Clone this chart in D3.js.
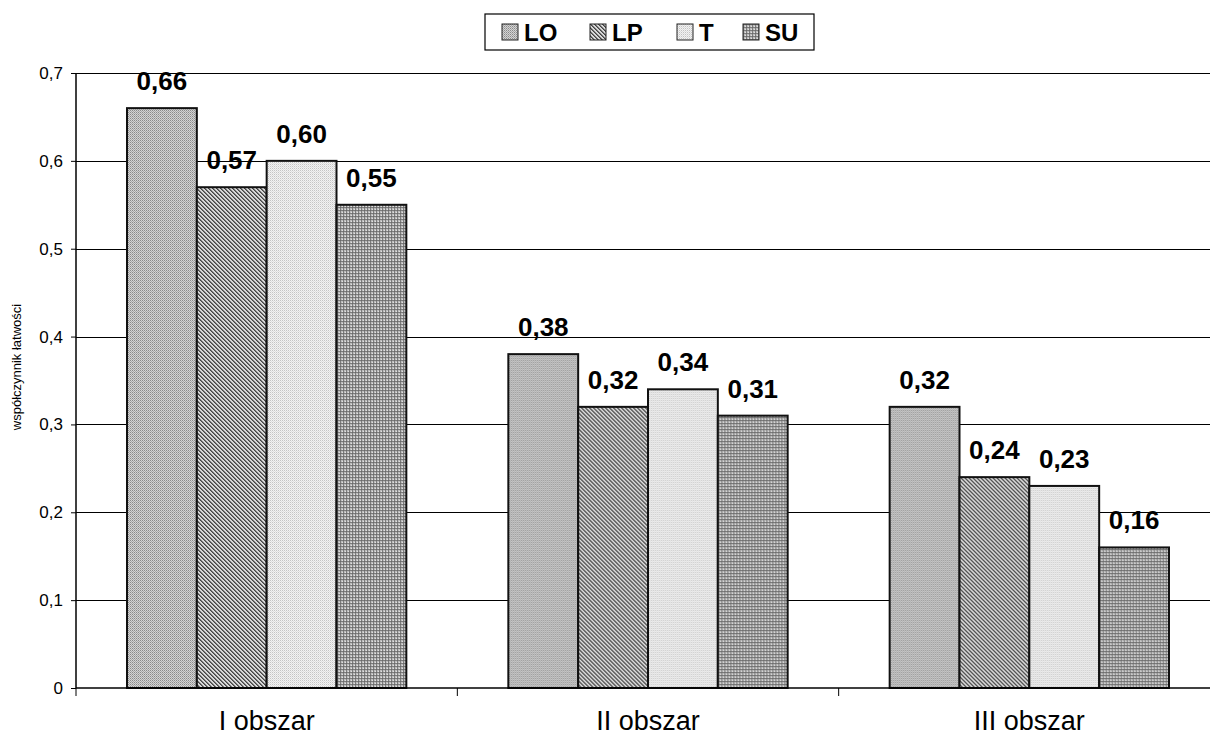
<!DOCTYPE html>
<html>
<head>
<meta charset="utf-8">
<title>współczynnik łatwości</title>
<style>
  body { margin: 0; background: #fff; }
  svg { display: block; font-family: Arial, "Liberation Sans", sans-serif; }
</style>
<script src="https://cdn.jsdelivr.net/npm/d3@7"></script>
</head>
<body>
<svg width="1210" height="740"></svg>
<script>
// data
const areas = ["I obszar", "II obszar", "III obszar"];
const schools = ["LO", "LP", "T", "SU"];
const LO = [0.66, 0.38, 0.32];
const LP = [0.57, 0.32, 0.24];
const T  = [0.60, 0.34, 0.23];
const SU = [0.55, 0.31, 0.16];
const yTicks = [0, 0.1, 0.2, 0.3, 0.4, 0.5, 0.6, 0.7];

const values = { LO: LO, LP: LP, T: T, SU: SU };
const rows = areas.map((a, i) => ({ area: a, vals: schools.map(s => ({ key: s, v: values[s][i] })) }));

const svg = d3.select("svg");
const defs = svg.append("defs");

// grey print-style fill patterns
function pixPattern(id, size, bg, cells) {
  const p = defs.append("pattern").attr("id", id)
    .attr("patternUnits", "userSpaceOnUse").attr("width", size).attr("height", size);
  p.append("rect").attr("width", size).attr("height", size).attr("fill", bg);
  cells.forEach(c => p.append("rect").attr("x", c[0]).attr("y", c[1]).attr("width", 1).attr("height", 1).attr("fill", c[2]));
}
pixPattern("pLO", 2, "#d4d4d4", [[0, 0, "#8a8a8a"], [1, 1, "#a8a8a8"]]);
pixPattern("pLP", 4, "#d8d8d8", [[0, 0, "#444"], [1, 1, "#444"], [2, 2, "#444"], [3, 3, "#444"], [1, 0, "#777"], [2, 1, "#777"], [3, 2, "#777"], [0, 3, "#777"]]);
pixPattern("pT", 2, "#f2f2f2", [[0, 0, "#c4c4c4"], [1, 1, "#dedede"]]);
pixPattern("pSU", 3, "#bdbdbd", [[0, 0, "#6a6a6a"], [1, 0, "#7c7c7c"], [2, 0, "#7c7c7c"], [0, 1, "#7c7c7c"], [0, 2, "#7c7c7c"], [2, 2, "#e0e0e0"]]);

const fill = d3.scaleOrdinal().domain(schools).range(["url(#pLO)", "url(#pLP)", "url(#pT)", "url(#pSU)"]);

const plotL = 76, plotR = 1220, plotT = 73, plotB = 688;

const x0 = d3.scaleBand().domain(areas).range([plotL, plotR]).paddingInner(0).paddingOuter(0);
const x1 = d3.scaleBand().domain(schools).range([51, x0.bandwidth() - 51]).padding(0);
const y = d3.scaleLinear().domain([0, 0.7]).range([plotB, plotT]);

const fmtAxis = d => d === 0 ? "0" : d3.format(".1f")(d).replace(".", ",");
const fmtVal = d => d3.format(".2f")(d).replace(".", ",");

// gridlines
svg.append("g")
  .selectAll("line").data(yTicks.slice(1)).enter().append("line")
  .attr("x1", plotL).attr("x2", plotR)
  .attr("y1", d => Math.round(y(d)) + 0.5).attr("y2", d => Math.round(y(d)) + 0.5)
  .attr("stroke", "#000").attr("stroke-width", 1);

// y axis
const yAxis = svg.append("g")
  .attr("transform", `translate(${plotL},0)`)
  .call(d3.axisLeft(y).tickValues(yTicks).tickFormat(fmtAxis).tickSize(5).tickPadding(8));
yAxis.select(".domain").attr("d", `M0,${plotT}V${plotB}`).attr("stroke-width", 1.5);
yAxis.selectAll("text").attr("font-size", 17).attr("fill", "#000")
  .attr("font-family", "Arial, 'Liberation Sans', sans-serif");

// bars
const grp = svg.append("g").selectAll("g").data(rows).enter().append("g")
  .attr("transform", d => `translate(${x0(d.area)},0)`);

grp.selectAll("rect").data(d => d.vals).enter().append("rect")
  .attr("x", d => x1(d.key))
  .attr("y", d => y(d.v))
  .attr("width", x1.bandwidth())
  .attr("height", d => y(0) - y(d.v))
  .attr("fill", d => fill(d.key))
  .attr("stroke", "#111").attr("stroke-width", 2);

grp.selectAll("text").data(d => d.vals).enter().append("text")
  .attr("x", d => x1(d.key) + x1.bandwidth() / 2)
  .attr("y", d => y(d.v) - 18)
  .attr("text-anchor", "middle")
  .attr("font-size", 26).attr("font-weight", "bold")
  .text(d => fmtVal(d.v));

// x axis
const xAxis = svg.append("g")
  .attr("transform", `translate(0,${plotB})`)
  .call(d3.axisBottom(x0).tickSize(0).tickPadding(23));
xAxis.select(".domain").attr("d", `M${plotL},0H${plotR}`).attr("stroke-width", 1.5);
xAxis.selectAll("text").attr("font-size", 27).attr("fill", "#000")
  .attr("font-family", "Arial, 'Liberation Sans', sans-serif");
// separators between categories
xAxis.selectAll("line.sep").data(areas).enter().append("line")
  .attr("class", "sep")
  .attr("x1", d => x0(d)).attr("x2", d => x0(d))
  .attr("y1", 0).attr("y2", 8)
  .attr("stroke", "#000");

// y title
svg.append("text")
  .attr("transform", "translate(18,367) rotate(-90)")
  .attr("text-anchor", "middle")
  .attr("dominant-baseline", "middle")
  .attr("font-size", 13)
  .text("współczynnik łatwości");

// legend
const legend = svg.append("g");
legend.append("rect")
  .attr("x", 485).attr("y", 14).attr("width", 329).attr("height", 36)
  .attr("fill", "#fff").attr("stroke", "#000").attr("stroke-width", 1.2);
const legX = d3.scaleOrdinal().domain(schools).range([502, 590, 677, 743]);
const item = legend.selectAll("g.item").data(schools).enter().append("g")
  .attr("class", "item")
  .attr("transform", d => `translate(${legX(d)},24)`);
item.append("rect").attr("width", 16).attr("height", 16)
  .attr("fill", d => fill(d)).attr("stroke", "#222").attr("stroke-width", 1);
item.append("text")
  .attr("x", 22).attr("y", 17)
  .attr("font-size", 24).attr("font-weight", "bold")
  .text(d => d);
</script>
</body>
</html>
